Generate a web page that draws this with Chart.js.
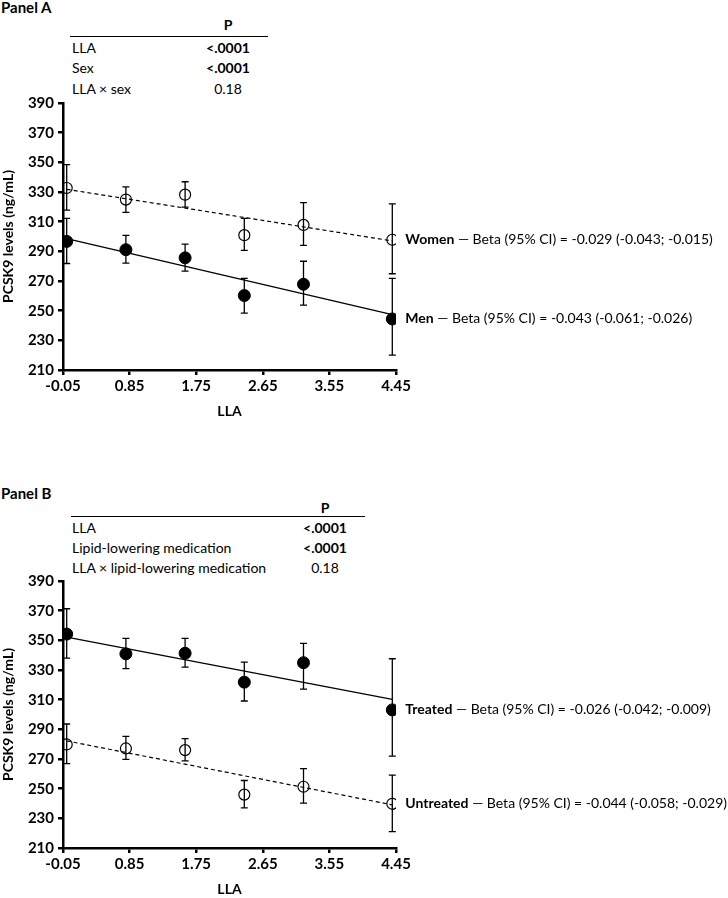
<!DOCTYPE html>
<html>
<head>
<meta charset="utf-8">
<script src="https://cdn.jsdelivr.net/npm/chart.js"></script>
<style>
  body { margin: 0; background: #fff; font-family: Lato, sans-serif; color: #000; }
  #page { position: relative; width: 728px; height: 898px; }
  .t { position: absolute; font-size: 14px; line-height: 16px; white-space: nowrap; }
  .b { font-weight: bold; }
  .c { transform: translateX(-50%); }
  .rule { position: absolute; height: 0; border-top: 1.5px solid #000; }
  canvas { position: absolute; left: 0; }
</style>
</head>
<body>
<div id="page">
  <div class="t b" style="left:1px;top:-1px;font-size:15px">Panel A</div>
  <div class="t b c" style="left:228px;top:17px">P</div>
  <div class="rule" style="left:70px;top:36px;width:198px"></div>
  <div class="t" style="left:72px;top:40px">LLA</div>
  <div class="t b c" style="left:228px;top:40px">&lt;.0001</div>
  <div class="t" style="left:72px;top:60px">Sex</div>
  <div class="t b c" style="left:228px;top:60px">&lt;.0001</div>
  <div class="t" style="left:72px;top:81px">LLA × sex</div>
  <div class="t c" style="left:228px;top:81px">0.18</div>

  <div class="t b" style="left:1px;top:485px;font-size:15px">Panel B</div>
  <div class="t b c" style="left:325px;top:500px">P</div>
  <div class="rule" style="left:71px;top:516px;width:294px"></div>
  <div class="t" style="left:72px;top:520px">LLA</div>
  <div class="t b c" style="left:325px;top:520px">&lt;.0001</div>
  <div class="t" style="left:72px;top:540px">Lipid-lowering medication</div>
  <div class="t b c" style="left:325px;top:540px">&lt;.0001</div>
  <div class="t" style="left:72px;top:560px">LLA × lipid-lowering medication</div>
  <div class="t c" style="left:325px;top:560px">0.18</div>

  <canvas id="chartA" width="728" height="330" style="top:90px"></canvas>
  <canvas id="chartB" width="728" height="330" style="top:568px"></canvas>
</div>
<script>
// LLA categories and axis ticks
const llaX = [0, 0.8, 1.6, 2.4, 3.2, 4.4];
const fitX = [0, 4.4];
const xTicks = [-0.05, 0.85, 1.75, 2.65, 3.55, 4.45];
const yTicks = [210, 230, 250, 270, 290, 310, 330, 350, 370, 390];

// Panel A: sex
const womenMean = [332.7, 324.9, 328.2, 300.9, 307.8, 297.8];
const womenLow = [317.8, 316.2, 319.8, 290.7, 294.0, 274.9];
const womenHigh = [348.5, 333.5, 336.9, 312.2, 322.9, 322.0];
const menMean = [296.7, 291.1, 285.6, 260.2, 267.8, 244.4];
const menLow = [281.8, 282.0, 276.7, 248.4, 253.8, 220.0];
const menHigh = [312.2, 300.7, 294.9, 271.8, 283.3, 271.8];
const womenFit = [331.8, 297.0];
const menFit = [298.5, 247.3];

// Panel B: lipid-lowering medication
const treatedMean = [354.2, 340.9, 341.3, 321.8, 334.9, 303.1];
const treatedLow = [338.0, 330.9, 332.0, 309.1, 317.1, 272.0];
const treatedHigh = [371.3, 351.3, 351.3, 335.3, 348.0, 337.6];
const untreatedMean = [279.8, 277.1, 276.0, 246.0, 251.3, 239.8];
const untreatedLow = [266.9, 269.8, 268.7, 237.0, 240.2, 221.0];
const untreatedHigh = [293.6, 285.3, 283.8, 255.5, 263.5, 259.1];
const treatedFit = [352.2, 310.2];
const untreatedFit = [282.2, 239.1];

const labelsA = ["Women", "Men"];
const betasA = ["Beta (95% CI) = -0.029 (-0.043; -0.015)", "Beta (95% CI) = -0.043 (-0.061; -0.026)"];
const labelsB = ["Treated", "Untreated"];
const betasB = ["Beta (95% CI) = -0.026 (-0.042; -0.009)", "Beta (95% CI) = -0.044 (-0.058; -0.029)"];

const toPts = (xs, ys) => xs.map((x, i) => ({ x, y: ys[i] }));

// Error bars drawn under the markers
const errorBars = {
    id: "errorBars",
    beforeDatasetsDraw(chart) {
        const { ctx, scales: { x, y } } = chart;
        ctx.save();
        ctx.strokeStyle = "#000";
        ctx.lineWidth = 1.3;
        chart.data.datasets.forEach(ds => {
            if (!ds.errLow) return;
            ds.data.forEach((p, i) => {
                const px = x.getPixelForValue(p.x);
                const top = y.getPixelForValue(ds.errHigh[i]);
                const bot = y.getPixelForValue(ds.errLow[i]);
                ctx.beginPath();
                ctx.moveTo(px, top); ctx.lineTo(px, bot);
                ctx.moveTo(px - 3.5, top); ctx.lineTo(px + 3.5, top);
                ctx.moveTo(px - 3.5, bot); ctx.lineTo(px + 3.5, bot);
                ctx.stroke();
            });
        });
        ctx.restore();
    }
};

// Labels next to the last point of each group
const groupLabels = {
    id: "groupLabels",
    afterDatasetsDraw(chart) {
        const { ctx, scales: { x, y } } = chart;
        ctx.save();
        ctx.fillStyle = "#000";
        ctx.textBaseline = "middle";
        chart.data.datasets.forEach(ds => {
            if (!ds.tag) return;
            const last = ds.data[ds.data.length - 1];
            let px = x.getPixelForValue(last.x) + 13;
            const py = y.getPixelForValue(last.y);
            ctx.font = "bold 14px Lato";
            ctx.fillText(ds.tag, px, py);
            px += ctx.measureText(ds.tag).width;
            ctx.font = "14px Lato";
            ctx.fillText(" \u2014 " + ds.beta, px, py);
        });
        ctx.restore();
    }
};

function crearPanel(id, openMean, openLow, openHigh, openFit, fillMean, fillLow, fillHigh, fillFit, tags, betas, openFirst) {
    const openSet = {
        data: toPts(llaX, openMean), errLow: openLow, errHigh: openHigh,
        tag: openFirst ? tags[0] : tags[1], beta: openFirst ? betas[0] : betas[1],
        pointRadius: 5.5, pointHoverRadius: 5.5, pointBorderWidth: 1.2,
        pointBackgroundColor: "rgba(0,0,0,0)", pointBorderColor: "#000", showLine: false, order: 1
    };
    const fillSet = {
        data: toPts(llaX, fillMean), errLow: fillLow, errHigh: fillHigh,
        tag: openFirst ? tags[1] : tags[0], beta: openFirst ? betas[1] : betas[0],
        pointRadius: 6, pointHoverRadius: 6, pointBorderWidth: 1,
        pointBackgroundColor: "#000", pointBorderColor: "#000", showLine: false, order: 1
    };
    const openLine = {
        data: toPts(fitX, openFit), showLine: true, pointRadius: 0,
        borderColor: "#000", borderWidth: 1.2, borderDash: [4, 3], order: 2
    };
    const fillLine = {
        data: toPts(fitX, fillFit), showLine: true, pointRadius: 0,
        borderColor: "#000", borderWidth: 1.3, order: 2
    };

    const tickFont = { family: "Lato", size: 15, weight: "bold" };
    const titleFont = { family: "Lato", size: 14, weight: "bold" };
    return new Chart(document.getElementById(id), {
        type: "scatter",
        data: { datasets: [openLine, fillLine, openSet, fillSet] },
        options: {
            responsive: false,
            animation: false,
            events: [],
            layout: { padding: { top: 10, right: 332, bottom: 0, left: 0 } },
            plugins: { legend: { display: false }, tooltip: { enabled: false } },
            scales: {
                x: {
                    type: "linear", min: -0.05, max: 4.45,
                    afterBuildTicks: s => { s.ticks = xTicks.map(v => ({ value: v })); },
                    afterFit: s => { s.height = 50; },
                    grid: { drawOnChartArea: false, drawTicks: true, tickLength: 5, color: "#000", lineWidth: 2.5 },
                    border: { color: "#000", width: 2.5 },
                    ticks: { color: "#000", font: tickFont, padding: 2, maxRotation: 0, callback: v => v.toFixed(2) },
                    title: { display: true, text: "LLA", color: "#000", font: titleFont, padding: 0 }
                },
                y: {
                    min: 210, max: 390,
                    afterBuildTicks: s => { s.ticks = yTicks.map(v => ({ value: v })); },
                    afterFit: s => { s.width = 63; },
                    grid: { drawOnChartArea: false, drawTicks: true, tickLength: 5, color: "#000", lineWidth: 2.5 },
                    border: { color: "#000", width: 2.5 },
                    ticks: { color: "#000", font: tickFont, padding: 4 },
                    title: { display: true, text: "PCSK9 levels (ng/mL)", color: "#000", font: titleFont, padding: 0 }
                }
            }
        },
        plugins: [errorBars, groupLabels]
    });
}

crearPanel("chartA", womenMean, womenLow, womenHigh, womenFit, menMean, menLow, menHigh, menFit, labelsA, betasA, true);
crearPanel("chartB", untreatedMean, untreatedLow, untreatedHigh, untreatedFit, treatedMean, treatedLow, treatedHigh, treatedFit, labelsB, betasB, false);
</script>
</body>
</html>
